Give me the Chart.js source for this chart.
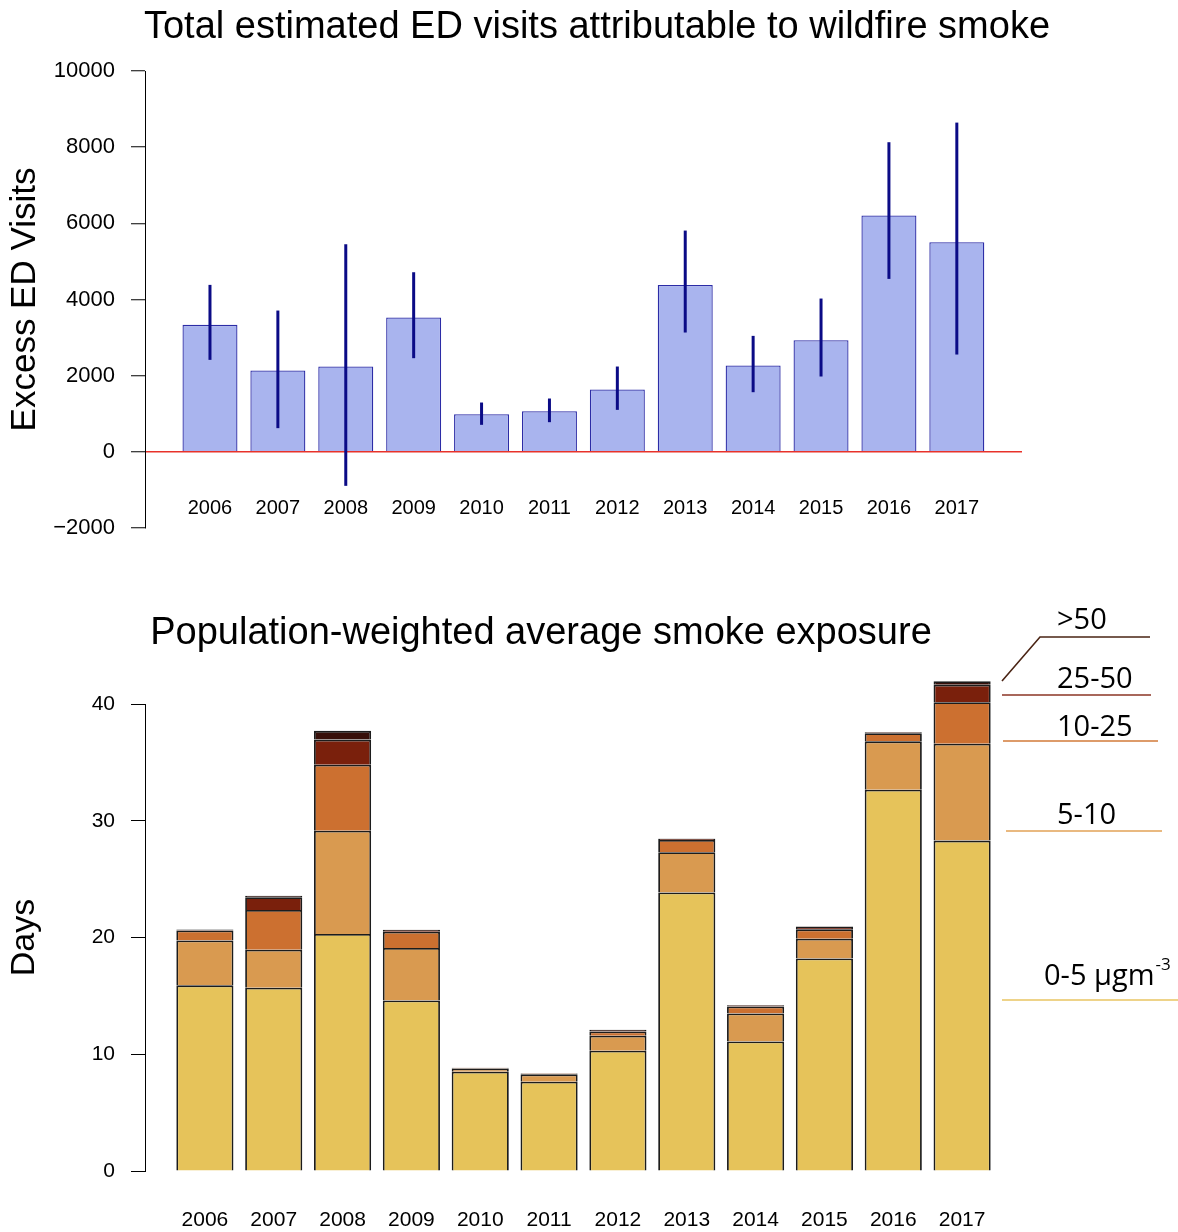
<!DOCTYPE html>
<html>
<head>
<meta charset="utf-8">
<script src="https://cdn.jsdelivr.net/npm/chart.js@4.4.1/dist/chart.umd.min.js"></script>
<style>
  body { margin: 0; background: #fff; }
  #page { position: relative; width: 1178px; height: 1232px; }
  canvas { position: absolute; left: 0; }
  .title {
    position: absolute; width: 1000px; text-align: center;
    font-family: "Liberation Sans", Arial, sans-serif;
    font-size: 38px; line-height: 44px; color: #000; white-space: nowrap;
  }
</style>
</head>
<body>
<div id="page">
  <canvas id="edChart" width="1178" height="560" style="top:0"></canvas>
  <canvas id="smokeChart" width="1178" height="672" style="top:560px"></canvas>
  <div class="title" style="left:97px; top:3px">Total estimated ED visits attributable to wildfire smoke</div>
  <div class="title" style="left:41px; top:609px">Population-weighted average smoke exposure</div>
</div>
<script>
  const years = ['2006', '2007', '2008', '2009', '2010', '2011', '2012', '2013', '2014', '2015', '2016', '2017'];

  // excess ED visits and their confidence bounds
  const edVisits = [3334, 2134, 2240, 3526, 989, 1067, 1636, 4384, 2267, 2931, 6204, 5504];
  const edLower = [2415, 622, -893, 2459, 709, 779, 1102, 3133, 1566, 1978, 4541, 2555];
  const edUpper = [4384, 3710, 5451, 4716, 1295, 1400, 2240, 5810, 3045, 4025, 8130, 8645];

  // smoke days by PM2.5 bin
  const bins = ['0-5', '5-10', '10-25', '25-50', '>50'];
  const days0to5 = [15.9, 15.7, 20.3, 14.6, 8.5, 7.65, 10.3, 23.85, 11.1, 18.2, 32.65, 28.3];
  const days5to10 = [3.85, 3.25, 8.85, 4.5, 0.28, 0.63, 1.28, 3.45, 2.4, 1.7, 4.15, 8.3];
  const days10to25 = [0.85, 3.4, 5.65, 1.4, 0.05, 0.08, 0.37, 1.05, 0.6, 0.8, 0.7, 3.55];
  const days25to50 = [0.08, 1.1, 2.15, 0.15, 0.02, 0.02, 0.12, 0.1, 0.1, 0.2, 0.08, 1.5];
  const daysOver50 = [0, 0.12, 0.75, 0.02, 0, 0, 0.02, 0.02, 0.02, 0.05, 0, 0.3];

  const binColors = ['#e6c35a', '#d99a50', '#cc7030', '#7a200c', '#38100a'];

  Chart.defaults.font.family = "'Liberation Sans', Arial, sans-serif";
  Chart.defaults.color = '#000';

  const errorBars = {
    id: 'errorBars',
    afterDatasetsDraw(chart) {
      const { ctx, scales: { x, y } } = chart;
      ctx.save();
      ctx.strokeStyle = '#0b0b86';
      ctx.lineWidth = 3;
      edLower.forEach((lo, i) => {
        const px = x.getPixelForValue(i);
        ctx.beginPath();
        ctx.moveTo(px, y.getPixelForValue(lo));
        ctx.lineTo(px, y.getPixelForValue(edUpper[i]));
        ctx.stroke();
      });
      ctx.restore();
    }
  };

  new Chart(document.getElementById('edChart'), {
    type: 'bar',
    data: {
      datasets: [{
        data: edVisits.map((v, i) => ({ x: i, y: v })),
        backgroundColor: '#a9b4ee',
        borderColor: '#2c2ca6',
        borderWidth: 1.3,
        barPercentage: 0.81,
        categoryPercentage: 1,
      }]
    },
    options: {
      responsive: false,
      animation: false,
      layout: { padding: { top: 71, bottom: 32, left: 0, right: 156 } },
      plugins: { legend: { display: false }, tooltip: { enabled: false } },
      scales: {
        x: {
          type: 'linear',
          offset: false,
          min: -0.957,
          max: 11.96,
          position: { y: -760 },
          grid: { display: false },
          border: { display: false },
          ticks: {
            stepSize: 1,
            includeBounds: false,
            autoSkip: false,
            maxRotation: 0,
            padding: 8,
            font: { size: 20 },
            callback: v => years[v] ?? '',
          },
        },
        y: {
          min: -2000,
          max: 10000,
          z: 1,
          afterFit: s => { s.width = 145; },
          border: { color: '#000', width: 1 },
          grid: {
            color: c => (c.tick && c.tick.value === 0 ? '#e8322a' : 'rgba(0,0,0,0)'),
            lineWidth: 1.5,
            tickColor: '#000',
            tickLength: 14,
            tickWidth: 1,
          },
          ticks: {
            stepSize: 2000,
            padding: 16,
            font: { size: 22 },
            callback: v => String(v).replace('-', '\u2212'),
          },
          title: { display: true, text: 'Excess ED Visits', font: { size: 35 }, padding: { top: 4 } },
        },
      },
    },
    plugins: [errorBars],
  });

  const sideLegend = {
    id: 'sideLegend',
    afterDraw(chart) {
      const { ctx } = chart;
      ctx.save();
      ctx.lineWidth = 1.6;
      const line = (color, pts) => {
        ctx.strokeStyle = color;
        ctx.beginPath();
        ctx.moveTo(pts[0][0], pts[0][1]);
        pts.slice(1).forEach(p => ctx.lineTo(p[0], p[1]));
        ctx.stroke();
      };
      line('#4a2414', [[1002, 121], [1040, 77], [1150, 77]]);
      line('#8b3424', [[1002, 135], [1151, 135]]);
      line('#d27a38', [[1003, 181], [1158, 181]]);
      line('#e2a256', [[1006, 271], [1162, 271]]);
      line('#e8c462', [[1002, 440], [1178, 440]]);

      ctx.fillStyle = '#000';
      ctx.textBaseline = 'middle';
      ctx.font = "29px 'Open Sans', sans-serif";
      ctx.fillText(bins[4], 1057, 61);
      ctx.fillText(bins[3], 1057, 120);
      ctx.fillText(bins[2], 1057, 168);
      ctx.fillText(bins[1], 1057, 256);
      const base = bins[0] + ' \u00b5gm';
      ctx.fillText(base, 1044, 417);
      const w = ctx.measureText(base).width;
      ctx.font = "17px 'Open Sans', sans-serif";
      ctx.fillText('-3', 1044 + w + 1, 405);
      ctx.restore();
    }
  };

  const binData = [days0to5, days5to10, days10to25, days25to50, daysOver50];

  new Chart(document.getElementById('smokeChart'), {
    type: 'bar',
    data: {
      datasets: binData.map((vals, k) => ({
        label: bins[k],
        data: vals.map((v, i) => ({ x: i, y: v })),
        backgroundColor: binColors[k],
        borderColor: '#1c1c1c',
        borderWidth: 1.8,
        barPercentage: 0.83,
        categoryPercentage: 1,
        clip: false,
      }))
    },
    options: {
      responsive: false,
      animation: false,
      layout: { padding: { top: 144, bottom: 61, left: 0, right: 156 } },
      plugins: { legend: { display: false }, tooltip: { enabled: false } },
      scales: {
        x: {
          type: 'linear',
          offset: false,
          stacked: true,
          min: -0.87,
          max: 11.87,
          position: { y: 0 },
          grid: { display: false },
          border: { display: false },
          ticks: {
            stepSize: 1,
            includeBounds: false,
            autoSkip: false,
            maxRotation: 0,
            padding: 29,
            font: { size: 21 },
            callback: v => years[v] ?? '',
          },
        },
        y: {
          stacked: true,
          min: 0,
          max: 40,
          afterFit: s => { s.width = 145; },
          border: { color: '#000', width: 1 },
          grid: { drawOnChartArea: false, tickColor: '#000', tickLength: 14 },
          ticks: { stepSize: 10, padding: 16, font: { size: 21 } },
          title: { display: true, text: 'Days', font: { size: 34 }, padding: { top: 4 } },
        },
      },
    },
    plugins: [sideLegend],
  });
</script>
</body>
</html>
